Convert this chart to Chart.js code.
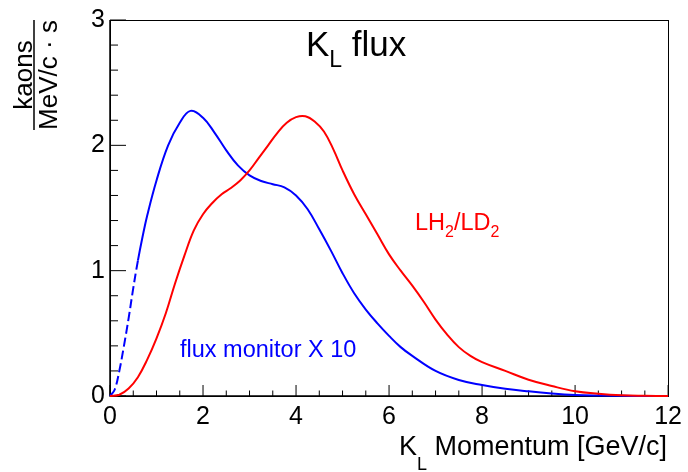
<!DOCTYPE html>
<html><head><meta charset="utf-8">
<script src="https://cdn.jsdelivr.net/npm/chart.js@4.4.1/dist/chart.umd.min.js"></script>
<style>html,body{margin:0;padding:0;background:#fff;}canvas{display:block;}</style>
</head><body>
<canvas id="c" width="688" height="472"></canvas>
<script>
// ---- data ----
const blueMomentum = [0,0.1,0.2,0.3,0.4,0.5,0.6,0.7,0.8,1.0,1.25,1.5,1.73,2.0,2.25,2.5,2.75,3.0,3.25,3.5,3.75,4.0,4.25,4.5,4.75,5.0,5.25,5.5,5.75,6.0,6.25,6.5,7.0,7.5,8.0,8.5,9.0,9.5,10,10.5,11,11.5,12];
const blueFlux     = [0,0.05,0.2,0.4,0.62,0.86,1.08,1.27,1.44,1.72,2.0,2.18,2.275,2.22,2.1,1.96,1.84,1.76,1.715,1.69,1.665,1.6,1.49,1.33,1.16,0.98,0.82,0.69,0.58,0.48,0.39,0.32,0.2,0.128,0.088,0.058,0.037,0.02,0.008,0.003,0.001,0,0];
const redMomentum  = [0,0.2,0.4,0.6,0.8,1.0,1.2,1.4,1.6,1.8,2.0,2.2,2.4,2.6,2.8,3.0,3.2,3.4,3.6,3.8,4.0,4.2,4.4,4.6,4.8,5.0,5.25,5.5,5.75,6.0,6.25,6.5,6.75,7.0,7.25,7.5,7.75,8.0,8.5,9.0,9.5,10.0,10.5,11,11.5,12];
const redFlux      = [0,0.01,0.06,0.15,0.29,0.46,0.66,0.9,1.12,1.32,1.45,1.54,1.61,1.66,1.72,1.8,1.9,2.0,2.1,2.18,2.225,2.232,2.19,2.11,1.97,1.80,1.61,1.45,1.29,1.13,1.0,0.88,0.75,0.61,0.49,0.39,0.32,0.27,0.2,0.13,0.08,0.038,0.018,0.006,0.002,0];
const dashedRange  = [0, 0.6];          // flux-monitor part drawn dashed
const xTickValues  = [0,2,4,6,8,10,12];
const xTickLabels  = ['0','2','4','6','8','10','12'];
const yTickValues  = [0,1,2,3];
const yTickLabels  = ['0','1','2','3'];
const titleParts   = ['K','L',' flux'];
const xTitleParts  = ['K','L',' Momentum [GeV/c]'];
const yTitleNum    = 'kaons';
const yTitleDen    = 'MeV/c \u00B7 s';
const blueLabel    = 'flux monitor X 10';
const redLabelParts= ['LH','2','/LD','2'];

const FONT = '"Liberation Sans", Arial, Helvetica, sans-serif';
const RED = '#ff0000', BLUE = '#0000ff';

function toXY(xs, ys){ return xs.map((x,i)=>({x:x, y:ys[i]})); }

const decor = {
  id:'decor',
  beforeDatasetsDraw(chart){
    const ctx = chart.ctx, a = chart.chartArea;
    const xs = chart.scales.x, ys = chart.scales.y;
    ctx.save();
    ctx.strokeStyle = '#000';
    ctx.lineWidth = 1;
    ctx.strokeRect(Math.round(a.left)+0.5, Math.round(a.top)+0.5, Math.round(a.right)-Math.round(a.left), Math.round(a.bottom)-Math.round(a.top));
    ctx.lineWidth = 1.5;
    ctx.beginPath();
    ctx.moveTo(a.left, a.top); ctx.lineTo(a.left, a.bottom); ctx.lineTo(a.right, a.bottom);
    ctx.stroke();
    ctx.lineWidth = 1;
    for (let k=0;k<=15;k++){
      const v = k*0.2, py = ys.getPixelForValue(v);
      const len = (k%5===0) ? 16 : 8;
      ctx.beginPath(); ctx.moveTo(a.left, py); ctx.lineTo(a.left+len, py); ctx.stroke();
    }
    for (let k=0;k<=24;k++){
      const v = k*0.5, px = xs.getPixelForValue(v);
      const len = (k%4===0) ? 11 : 5.5;
      ctx.beginPath(); ctx.moveTo(px, a.bottom); ctx.lineTo(px, a.bottom-len); ctx.stroke();
    }
    ctx.restore();
  },
  afterDraw(chart){
    const ctx = chart.ctx, a = chart.chartArea;
    ctx.save();
    ctx.textBaseline = 'alphabetic';
    ctx.textAlign = 'left';
    // Title
    let x = 306;
    ctx.fillStyle = '#000';
    ctx.font = '35px ' + FONT; ctx.fillText(titleParts[0], x, 56); x += ctx.measureText(titleParts[0]).width;
    ctx.font = '23px ' + FONT; ctx.fillText(titleParts[1], x, 66.5); x += ctx.measureText(titleParts[1]).width;
    ctx.font = '35px ' + FONT; ctx.fillText(titleParts[2], x, 56);
    // x-axis title, right aligned to frame
    ctx.font = '27px ' + FONT; const w0 = ctx.measureText(xTitleParts[0]).width, w2 = ctx.measureText(xTitleParts[2]).width;
    ctx.font = '18px ' + FONT; const w1 = ctx.measureText(xTitleParts[1]).width;
    x = a.right - 1 - (w0+w1+w2);
    ctx.font = '27px ' + FONT; ctx.fillText(xTitleParts[0], x, 455); x += w0;
    ctx.font = '18px ' + FONT; ctx.fillText(xTitleParts[1], x, 470); x += w1;
    ctx.font = '27px ' + FONT; ctx.fillText(xTitleParts[2], x, 455);
    // y-axis title (fraction, rotated)
    const cy = (a.top + 130)/2;
    ctx.font = '26px ' + FONT; ctx.textAlign = 'center';
    ctx.save(); ctx.translate(31.5, cy); ctx.rotate(-Math.PI/2); ctx.fillText(yTitleNum, 0, 0); ctx.restore();
    ctx.save(); ctx.translate(57, cy); ctx.rotate(-Math.PI/2); ctx.fillText(yTitleDen, 0, 0); ctx.restore();
    ctx.lineWidth = 1.5; ctx.strokeStyle = '#000';
    ctx.beginPath(); ctx.moveTo(34, a.top); ctx.lineTo(34, 130); ctx.stroke();
    // annotations
    ctx.textAlign = 'left';
    ctx.fillStyle = BLUE; ctx.font = '23.5px ' + FONT; ctx.fillText(blueLabel, 180, 357);
    ctx.fillStyle = RED; x = 415;
    for (let i=0;i<redLabelParts.length;i++){
      const sub = i%2===1;
      ctx.font = (sub ? '16px ' : '23.5px ') + FONT;
      ctx.fillText(redLabelParts[i], x, sub ? 237 : 229.5);
      x += ctx.measureText(redLabelParts[i]).width;
    }
    ctx.restore();
  }
};

new Chart(document.getElementById('c'), {
  type:'line',
  data:{ datasets:[
    { data: toXY(redMomentum, redFlux), borderColor: RED, borderWidth: 2, pointRadius: 0, fill:false,
      tension:0.4, clip:false },
    { data: toXY(blueMomentum, blueFlux), borderColor: BLUE, borderWidth: 2, pointRadius: 0, fill:false,
      tension:0.4, clip:false,
      segment:{ borderDash: c => (c.p0.parsed.x >= dashedRange[0] && c.p1.parsed.x <= dashedRange[1]+1e-9) ? [9,4] : undefined } }
  ]},
  options:{
    responsive:false, animation:false, devicePixelRatio:1,
    layout:{ padding:{ top:15, right:17, left:0, bottom:0 } },
    plugins:{ legend:{display:false}, tooltip:{enabled:false}, title:{display:false} },
    scales:{
      x:{ type:'linear', min:0, max:12,
        afterBuildTicks: s => { s.ticks = xTickValues.map(v=>({value:v})); },
        afterFit: s => { s.height = 76; },
        grid:{ display:false, drawTicks:false }, border:{ display:false },
        ticks:{ font:{ size:25, family:FONT }, color:'#000', padding:6, maxRotation:0, autoSkip:false,
          callback:(v,i)=> xTickLabels[i] } },
      y:{ type:'linear', min:0, max:3,
        afterBuildTicks: s => { s.ticks = yTickValues.map(v=>({value:v})); },
        afterFit: s => { s.width = 110; },
        grid:{ display:false, drawTicks:false }, border:{ display:false },
        ticks:{ font:{ size:25, family:FONT }, color:'#000', padding:5, autoSkip:false,
          callback:(v,i)=> yTickLabels[i] } }
    }
  },
  plugins:[decor]
});
</script>
</body></html>
